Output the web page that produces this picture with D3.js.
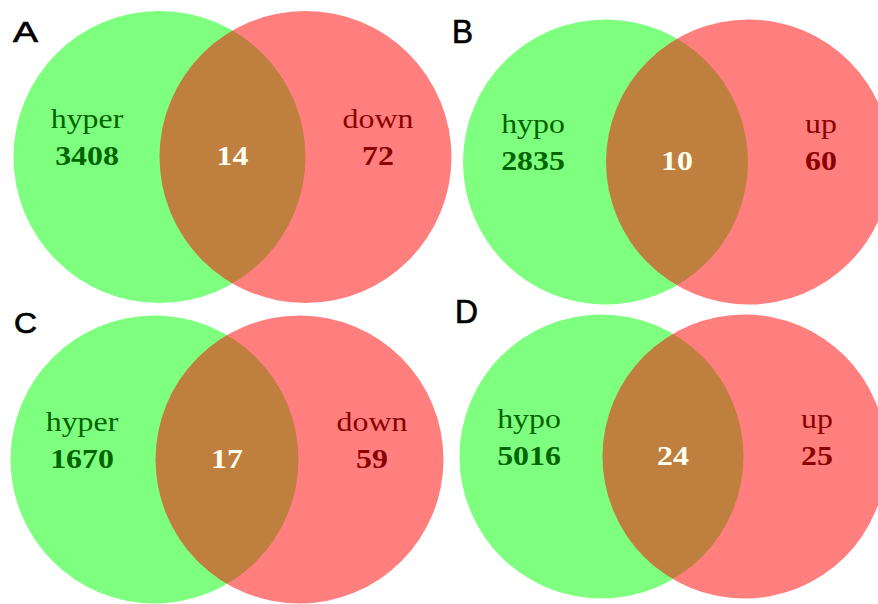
<!DOCTYPE html>
<html>
<head>
<meta charset="utf-8">
<script src="https://cdn.jsdelivr.net/npm/d3@7/dist/d3.min.js"></script>
<style>
html,body{margin:0;padding:0;background:#fff;}
svg{display:block;}
</style>
</head>
<body>
<svg id="chart" width="878" height="604"></svg>
<script>
// ---- data ----
const panelLetters = ["A", "B", "C", "D"];
const leftNames = ["hyper", "hypo", "hyper", "hypo"];
const rightNames = ["down", "up", "down", "up"];
const leftOnly = [3408, 2835, 1670, 5016];
const overlapCounts = [14, 10, 17, 24];
const rightOnly = [72, 60, 59, 25];

// ---- layout (positions, not data) ----
const layout = [
  {gx: 159.5, rx: 305.5, cy: 157,   r: 146,   lx: 13,  ly: 42,  ls: 29, lw: 25},
  {gx: 605.5, rx: 748.5, cy: 162,   r: 142.5, lx: 452, ly: 43,  ls: 33, lw: 21},
  {gx: 154.5, rx: 299.5, cy: 459.5, r: 144,   lx: 14,  ly: 333, ls: 29, lw: 23},
  {gx: 601.5, rx: 744.5, cy: 456.5, r: 142,   lx: 455, ly: 323, ls: 33, lw: 23}
];

const svg = d3.select("#chart");
svg.append("rect").attr("width", 878).attr("height", 604).attr("fill", "#fff");

const panels = panelLetters.map((p, i) => ({
  letter: p, left: leftNames[i], right: rightNames[i],
  a: leftOnly[i], ab: overlapCounts[i], b: rightOnly[i], L: layout[i]
}));

const sx = 1.18;     // horizontal stretch of serif labels
const fs = 27;

panels.forEach(d => {
  const L = d.L;
  // position scale within a panel: 0 = green centre, 1 = red centre
  const x = d3.scaleLinear().domain([0, 1]).range([L.gx, L.rx]);
  const g = svg.append("g");

  g.append("circle").attr("cx", x(0)).attr("cy", L.cy).attr("r", L.r)
    .attr("fill", "rgb(0,255,0)").attr("fill-opacity", 0.5);
  g.append("circle").attr("cx", x(1)).attr("cy", L.cy).attr("r", L.r)
    .attr("fill", "rgb(255,0,0)").attr("fill-opacity", 0.5);

  const lx = x(0) - 72.5, rxp = x(1) + 72.5, mx = x(0.5);
  const yName = L.cy - 29, yNum = L.cy + 8;

  const txt = (tx, ty, s, color, bold) => {
    g.append("text")
      .attr("transform", `translate(${tx},${ty}) scale(${sx},1)`)
      .attr("text-anchor", "middle")
      .style("font-family", "'Liberation Serif', 'Times New Roman', serif")
      .style("font-size", fs + "px")
      .style("font-weight", bold ? "bold" : "normal")
      .attr("fill", color)
      .text(s);
  };
  txt(lx, yName, d.left, "#006400", false);
  txt(lx, yNum, d.a, "#006400", true);
  txt(mx, yNum, d.ab, "#FFFFF0", true);
  txt(rxp, yName, d.right, "#8B0000", false);
  txt(rxp, yNum, d.b, "#8B0000", true);

  g.append("text")
    .attr("x", L.lx).attr("y", L.ly)
    .style("font-family", "'Liberation Sans', Arial, sans-serif")
    .style("font-size", L.ls + "px")
    .attr("textLength", L.lw)
    .attr("lengthAdjust", "spacingAndGlyphs")
    .attr("fill", "#000")
    .attr("stroke", "#000")
    .attr("stroke-width", 0.7)
    .text(d.letter);
});
</script>
</body>
</html>
